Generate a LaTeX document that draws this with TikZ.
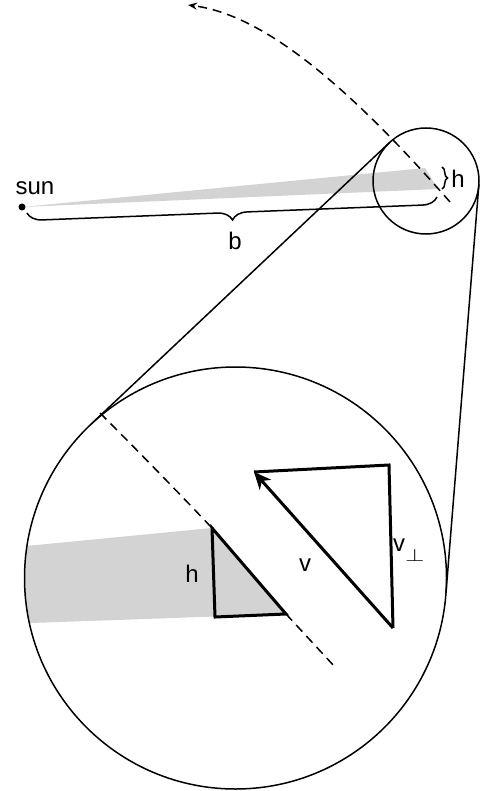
\documentclass[tikz,border=0pt]{standalone}
\usepackage{fontspec}
\setmainfont{Liberation Sans}
\usetikzlibrary{decorations.pathreplacing,arrows.meta,calc}
\definecolor{shadowgray}{RGB}{211,211,211}
\begin{document}
\begin{tikzpicture}[x=1pt,y=-1pt,
  thinline/.style={line width=1.5pt},
  thickline/.style={line width=3pt},
  dashline/.style={line width=1.5pt, dash pattern=on 9pt off 6pt},
  lbl/.style={font=\fontsize{24}{28}\selectfont, inner sep=0pt, anchor=base},
  lens/.style={circle, draw, line width=1.5pt, inner sep=0pt, outer sep=0pt}]
\useasboundingbox (0,0) rectangle (492,791);

% shadow wedge from the sun
\fill[shadowgray] (22,207) -- (425,168) -- (438,189) -- cycle;
% magnified shadow inside big circle
\begin{scope}
  \clip (235.5,578) circle[radius=211pt];
  \fill[shadowgray] (212,528) -- (286,614) -- (20,623.4) -- (20,546.6) -- cycle;
\end{scope}

% circles
\node[lens, minimum size=106pt] (zoomsrc) at (426,181) {};
\node[lens, minimum size=422pt] (zoomview) at (235.5,578) {};
\draw[thinline] (zoomsrc.133.34) -- (zoomview.133.34);
\draw[thinline] (zoomsrc.-4.6) -- (zoomview.-4.6);

% sun
\node[circle, fill, inner sep=0pt, minimum size=7pt] (sun) at (22,207) {};
\node[lbl] (sunlbl) at (35,195) {sun};

% brace b
\coordinate (bl) at (27,213);
\coordinate (br) at (437,197);
\draw[thinline, decorate, decoration={brace, mirror, amplitude=15pt}] (bl) -- (br);
\node[lbl] (blbl) at (235,250) {b};

% small brace h
\coordinate (ht) at (442,167);
\coordinate (hb) at (442,189);
\draw[thinline, decorate, decoration={brace, amplitude=5.5pt}] (ht) -- (hb);
\node[lbl] (hlbl) at (458,188) {h};

% orbit (dashed)
\coordinate (orbA) at (450,202);
\coordinate (orbB) at (188,5);
\draw[dashline, -{Stealth[length=9pt,width=7pt]}] (orbA) .. controls (350,88) and (265,15) .. (orbB);

% shadow triangle corners
\coordinate (t1) at (212,528);
\coordinate (t2) at (215,617);
\coordinate (t3) at (286,614);

% magnified orbit line
\coordinate (mA) at (100,413);
\coordinate (mB) at (335,667);
\draw[dashline] (mA) .. controls (138,451) and (175,489) .. (t1);
\draw[dashline] (t3) -- (mB);

% shadow triangle
\draw[thickline] (t1) -- (t2) -- (t3) -- cycle;
\node[lbl] (hbig) at (192,582) {h};

% velocity triangle
\coordinate (vtip) at (254,472);
\coordinate (vtr) at (389,465);
\coordinate (vbot) at (393,628);
\draw[thickline] (vtip) -- (vtr) -- (vbot);
\draw[thickline, -{Stealth[length=17pt,width=15pt,inset=5pt]}] (vbot) -- (vtip);
\node[lbl] (vlbl) at (305,571.7) {v};
\node[lbl, anchor=base west] (vperp) at (393,551.7) {v\raisebox{-10pt}{\scalebox{1}[0.72]{$\perp$}}};
\end{tikzpicture}
\end{document}
